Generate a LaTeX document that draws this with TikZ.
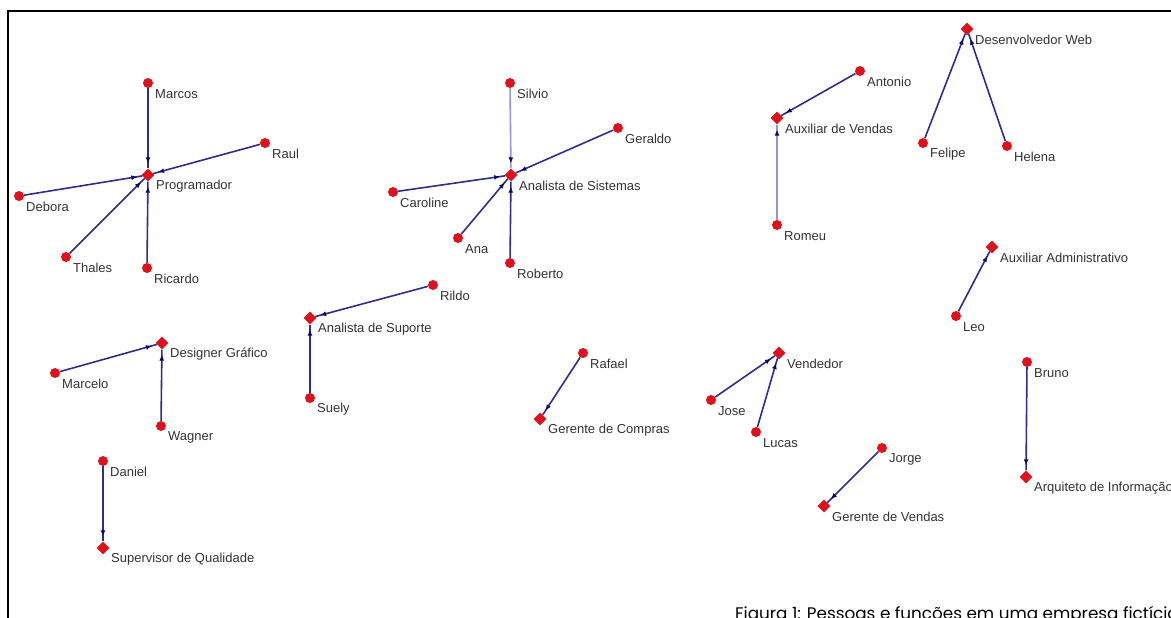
\documentclass[tikz,border=0pt]{standalone}
\usepackage{fontspec}
\setmainfont{Liberation Sans}
\newfontfamily\capfont{Poppins}
\usetikzlibrary{shapes.geometric,decorations.markings,arrows.meta,calc}
\definecolor{dotred}{RGB}{222,18,28}
\definecolor{edgeblue}{RGB}{45,45,140}
\definecolor{edgelight}{RGB}{150,150,210}
\definecolor{tipblue}{RGB}{10,10,110}
\definecolor{lbltext}{RGB}{50,50,50}
\begin{document}
\begin{tikzpicture}[x=1pt,y=-1pt,
  person/.style={circle,fill=dotred,inner sep=0pt,minimum size=10pt},
  role/.style={diamond,fill=dotred,inner sep=0pt,minimum size=13pt},
  lbl/.style={anchor=west,inner sep=0pt,font=\fontsize{13}{15}\selectfont,text=lbltext},
  edge/.style={draw=edgeblue,line width=1.6pt,postaction={decorate},
    decoration={markings,mark=at position -5pt with {\arrow{Latex[length=6pt,width=5pt,color=tipblue]}}}},
  lightedge/.style={edge,draw=edgelight},
  capt/.style={anchor=base west,inner sep=0pt,font=\capfont\fontsize{16.8}{19}\selectfont}
]
\useasboundingbox (0,0) rectangle (1171,618);
\draw[line width=2.5pt] (8,11) rectangle (1200,640);

% people
\foreach \n/\x/\y in {Marcos/148/83, Raul/265/143, Debora/19/196, Thales/66/257, Ricardo/147/268,
  Silvio/510/83, Geraldo/618/128, Caroline/393/192, Ana/458/238, Roberto/510/263, Rildo/433/285,
  Antonio/860/71, Felipe/923/143, Helena/1007/146, Romeu/777/225, Leo/956/316, Bruno/1027/362,
  Marcelo/55/373, Suely/310/398, Wagner/161/426, Daniel/103/461, Rafael/583/353, Jose/711/400,
  Lucas/756/432, Jorge/882/448}
{
  \node[person] (\n) at (\x,\y) {};
  \node[lbl] (\n-l) at ($(\x,\y)+(7,11)$) {\n};
}

% roles
\foreach \n/\x/\y/\t in {Programador/148/175/Programador, AnalistaSis/511/175/Analista de Sistemas,
  DesWeb/967/29/Desenvolvedor Web, AuxVendas/777/118/Auxiliar de Vendas,
  AuxAdm/992/247/Auxiliar Administrativo, ArqInfo/1026/477/Arquiteto de Informação,
  AnalistaSup/310/318/Analista de Suporte, Designer/162/343/Designer Gráfico,
  Supervisor/103/548/Supervisor de Qualidade, GerCompras/540/419/Gerente de Compras,
  Vendedor/779/353/Vendedor, GerVendas/824/506/Gerente de Vendas}
{
  \node[role] (\n) at (\x,\y) {};
  \node[lbl] (\n-l) at ($(\x,\y)+(8,11)$) {\t};
}

\path[edge] (Marcos) -- (Programador);
\path[edge] (Raul) -- (Programador);
\path[edge] (Debora) -- (Programador);
\path[edge] (Thales) -- (Programador);
\path[edge] (Ricardo) -- (Programador);
\path[lightedge] (Silvio) -- (AnalistaSis);
\path[edge] (Geraldo) -- (AnalistaSis);
\path[edge] (Caroline) -- (AnalistaSis);
\path[edge] (Ana) -- (AnalistaSis);
\path[edge] (Roberto) -- (AnalistaSis);
\path[edge] (Antonio) -- (AuxVendas);
\path[lightedge] (Romeu) -- (AuxVendas);
\path[edge] (Felipe) -- (DesWeb);
\path[edge] (Helena) -- (DesWeb);
\path[edge] (Leo) -- (AuxAdm);
\path[edge] (Bruno) -- (ArqInfo);
\path[edge] (Rildo) -- (AnalistaSup);
\path[edge] (Suely) -- (AnalistaSup);
\path[edge] (Marcelo) -- (Designer);
\path[edge] (Wagner) -- (Designer);
\path[edge] (Daniel) -- (Supervisor);
\path[edge] (Rafael) -- (GerCompras);
\path[edge] (Jose) -- (Vendedor);
\path[edge] (Lucas) -- (Vendedor);
\path[edge] (Jorge) -- (GerVendas);

\node[capt] (caption) at (735,619) {Figura 1: Pessoas e funções em uma empresa fictícia};
\end{tikzpicture}
\end{document}
